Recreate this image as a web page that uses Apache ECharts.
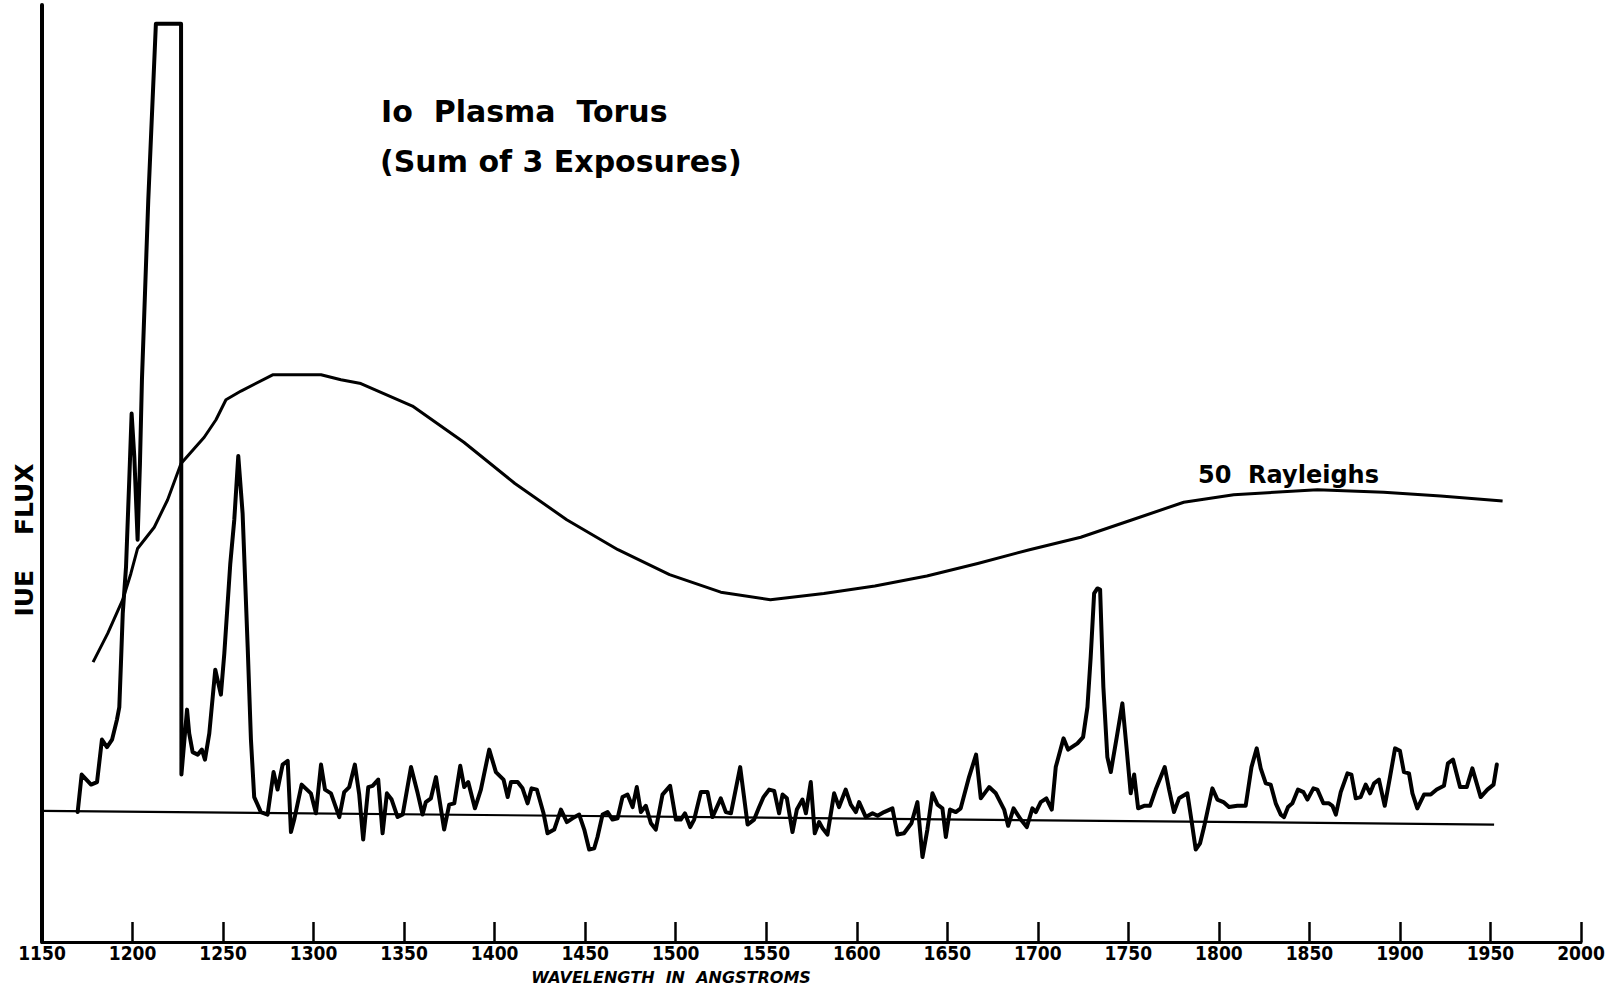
<!DOCTYPE html>
<html><head><meta charset="utf-8">
<script src="https://cdn.jsdelivr.net/npm/echarts@6/dist/echarts.min.js"></script>
<style>html,body{margin:0;padding:0;background:#fff}#c{width:1613px;height:987px}</style>
</head><body><div id="c"></div>
<script>
const xTicks = [1150,1200,1250,1300,1350,1400,1450,1500,1550,1600,1650,1700,1750,1800,1850,1900,1950,2000];

const spectrumWave = [1169.7,1171.9,1177.1,1180.4,1183.1,1185.9,1188.7,1191.4,1192.7,1193.6,1194.6,1196.4,1198.2,1199.5,1201.0,1202.8,1204.1,1205.2,1208.7,1212.9,1226.8,1227.0,1230.1,1231.3,1233.2,1236.0,1238.3,1240.0,1242.4,1245.7,1248.8,1250.7,1254.0,1256.2,1258.4,1260.8,1263.6,1265.4,1267.2,1270.9,
1274.6,1277.9,1280.1,1282.9,1285.7,1287.5,1289.3,1293.4,1298.5,1301.3,1304.1,1306.3,1309.6,1314.2,1316.9,1319.7,1322.8,1325.2,1327.4,1330.2,1332.6,1335.7,1338.1,1340.5,1343.1,1346.4,1349.2,1353.8,1357.5,1360.2,1362.0,1364.8,1367.6,1372.1,1374.9,1377.7,1381.0,1383.2,1385.4,1389.1,1392.4,1397.0,1400.7,1404.9,1407.2,1409.0,1412.7,1415.4,1418.2,1420.4,1423.3,1427.0,1429.2,1432.9,1436.6,1439.9,1443.0,1446.7,1449.5,1452.2,1455.0,1456.8,1459.6,1462.4,1465.1,1467.9,1470.6,1473.4,1476.2,1478.5,1480.8,1483.5,1486.3,1489.0,1492.7,1496.9,1500.1,1502.8,1505.1,1508.0,1510.2,1513.9,1517.6,1520.3,1524.9,1527.7,1530.5,1535.6,1539.7,1543.3,1546.1,
1548.5,1551.6,1554.4,1557.1,1559.0,1561.4,1564.5,1566.9,1570.0,1571.9,1574.6,1576.8,1579.2,1581.1,1583.8,1587.5,1590.2,1593.9,1596.7,1599.5,1601.3,1605.0,1608.7,1611.5,1615.1,1619.7,1622.5,1626.1,1630.2,1633.5,1636.3,1639.0,1641.8,1644.6,1647.3,1649.2,1651.5,1654.7,1657.4,1662.0,1665.9,1668.5,1673.1,1676.8,1681.4,1683.6,1686.6,1690.6,1693.9,1697.0,1698.9,
1701.6,1704.7,1707.7,1709.9,1714.2,1716.7,1721.9,1725.0,1727.4,1729.2,1731.1,1732.9,1734.4,1736.2,1738.4,1740.3,1743.6,1746.7,1749.1,1751.3,1753.2,1755.4,1758.7,1762.0,1765.1,1770.1,1772.5,1775.2,1778.0,1782.6,1784.8,1787.2,1789.6,1791.8,1796.4,1799.2,1802.5,1805.6,1810.2,1814.8,1818.0,1820.9,1823.1,1825.9,1828.6,1831.4,1834.2,1836.0,1838.2,1840.6,1843.7,1846.7,1848.9,1852.2,1854.4,1857.7,1860.8,1862.7,1864.6,1867.3,1871.0,1873.2,1875.6,1878.3,1881.1,1883.5,1885.7,1888.4,1891.6,1894.5,1897.3,1900.0,1902.2,1905.0,1906.9,1909.6,1913.3,1917.0,1920.3,1924.3,1926.5,1929.3,1933.2,1936.9,1940.0,1944.6,1948.3,1951.7,1953.5];

const spectrumFlux = [0.4,3.4,2.6,2.8,6.2,5.6,6.2,7.8,8.8,12.3,16.3,20.0,27.0,32.3,28.8,22.2,28.3,35.0,49.4,63.5,63.5,3.4,8.6,6.7,5.2,5.0,5.4,4.6,6.7,11.8,9.8,13.1,20.3,23.8,28.9,24.3,13.6,6.2,1.6,0.4,
0.2,3.6,2.2,4.2,4.5,-1.2,-0.2,2.6,1.9,0.3,4.2,2.2,1.9,0.0,2.0,2.4,4.2,1.8,-1.8,2.4,2.5,3.0,-1.3,1.9,1.4,0.0,0.2,4.0,1.9,0.2,1.2,1.5,3.2,-1.0,1.0,1.1,4.1,2.4,2.8,0.7,2.2,5.4,3.6,3.0,1.6,2.8,2.8,2.3,1.1,2.3,2.2,0.3,-1.3,-1.0,0.6,-0.4,-0.1,0.2,-1.0,-2.6,-2.5,-1.6,0.2,0.4,-0.2,-0.1,1.6,1.8,0.8,2.4,0.4,0.9,-0.5,-1.0,1.8,2.5,-0.2,-0.2,0.3,-0.8,-0.2,2.0,2.0,0.0,1.5,0.4,0.3,4.0,-0.6,-0.2,0.8,
1.6,2.2,2.1,0.3,1.8,1.5,-1.2,0.6,1.4,0.3,2.8,-1.3,-0.4,-0.9,-1.4,1.9,0.8,2.2,1.0,0.4,1.2,0.0,0.3,0.1,0.4,0.7,-1.4,-1.3,-0.5,1.2,-3.2,-1.0,1.9,1.0,0.7,-1.6,0.6,0.4,0.7,3.2,5.0,1.5,2.4,1.9,0.6,-0.7,0.7,-0.2,-0.8,0.7,0.4,
1.2,1.5,0.6,4.0,6.3,5.4,5.9,6.4,8.8,12.8,17.9,18.3,18.2,10.4,4.8,3.6,6.4,9.1,5.4,1.9,3.4,0.7,0.9,0.9,2.2,4.0,2.2,0.4,1.5,1.9,-0.2,-2.6,-2.1,-0.8,2.3,1.4,1.2,0.8,0.9,0.9,4.0,5.5,3.9,2.7,2.6,1.1,0.2,0.0,0.8,1.1,2.2,2.0,1.4,2.3,2.2,1.1,1.1,0.9,0.2,2.0,3.5,3.4,1.5,1.6,2.6,1.9,2.7,3.0,0.9,3.2,5.5,5.3,3.6,3.5,1.9,0.7,1.8,1.8,2.2,2.5,4.3,4.6,2.4,2.4,3.9,1.6,2.2,2.6,4.2];

const rayleighWave = [1178.2,1186.3,1194.6,1199.1,1202.8,1212.0,1219.4,1226.8,1234.1,1239.6,1246.1,1251.6,1259.9,1277.4,1304.1,1315.1,1326.1,1354.6,1383.0,1411.2,1439.8,1468.1,1496.6,1524.9,1552.3,1581.8,1610.0,1638.7,1666.8,1695.4,1723.7,1752.2,1780.6,1808.2,1854.4,1891.0,1922.5,1956.7];
const rayleighFlux = [12.4,14.7,17.4,19.5,21.5,23.2,25.4,28.3,29.5,30.4,31.8,33.4,34.1,35.4,35.4,35.0,34.7,32.9,30.0,26.7,23.8,21.4,19.4,18.0,17.4,17.9,18.5,19.3,20.3,21.4,22.4,23.8,25.2,25.8,26.2,26.0,25.7,25.3];

const zeroWave = [1150, 1952];
const zeroFlux = [0.5, -0.6];

const titleLines = ['Io  Plasma  Torus', '(Sum of 3 Exposures)'];
const curveLabel = '50  Rayleighs';
const xAxisTitle = 'WAVELENGTH  IN  ANGSTROMS';
const yAxisTitle = 'IUE    FLUX';

const zip = (a, b) => a.map((v, i) => [v, b[i]]);
const chart = echarts.init(document.getElementById('c'), null, {renderer: 'svg'});
const ink = '#000';
chart.setOption({
  animation: false,
  backgroundColor: '#fff',
  grid: {left: 42, right: 32, top: 5, bottom: 45},
  xAxis: {
    type: 'value', min: 1150, max: 2000, interval: 50,
    axisLine: {show: true, onZero: false, lineStyle: {color: ink, width: 3}},
    axisTick: {show: true, inside: true, length: 20, customValues: xTicks.slice(1), lineStyle: {color: ink, width: 2.5}},
    axisLabel: {customValues: xTicks, formatter: v => String(v), color: ink, fontFamily: '"Liberation Sans Narrow", "DejaVu Sans Condensed", sans-serif', fontWeight: 'bold', fontSize: 19, margin: 1},
    splitLine: {show: false}
  },
  yAxis: {
    type: 'value', min: -10, max: 65,
    axisLine: {show: true, onZero: false, lineStyle: {color: ink, width: 4}},
    axisTick: {show: false}, axisLabel: {show: false}, splitLine: {show: false}
  },
  series: [
    {type: 'line', name: 'zero', data: zip(zeroWave, zeroFlux), symbol: 'none', silent: true,
     lineStyle: {color: ink, width: 2.2}},
    {type: 'line', name: '50 Rayleighs', data: zip(rayleighWave, rayleighFlux), symbol: 'none', silent: true,
     lineStyle: {color: ink, width: 3, join: 'round'}},
    {type: 'line', name: 'IUE', data: zip(spectrumWave, spectrumFlux), symbol: 'none', silent: true,
     lineStyle: {color: ink, width: 4, join: 'round', cap: 'round'}}
  ],
  graphic: [
    {type: 'text', x: 381, y: 111, style: {text: titleLines[0], font: 'bold 30px "DejaVu Sans", sans-serif', fill: ink, align: 'left', verticalAlign: 'middle'}},
    {type: 'text', x: 380, y: 161, style: {text: titleLines[1], font: 'bold 30px "DejaVu Sans", sans-serif', fill: ink, align: 'left', verticalAlign: 'middle'}},
    {type: 'text', x: 1198, y: 475, style: {text: curveLabel, font: 'bold 24px "DejaVu Sans", sans-serif', fill: ink, align: 'left', verticalAlign: 'middle'}},
    {type: 'text', x: 671, y: 977, style: {text: xAxisTitle, font: 'italic bold 16px "DejaVu Sans", sans-serif', fill: ink, align: 'center', verticalAlign: 'middle'}},
    {type: 'text', x: 24, y: 540, rotation: Math.PI / 2, style: {text: yAxisTitle, font: 'bold 25px "DejaVu Sans", sans-serif', fill: ink, align: 'center', verticalAlign: 'middle'}}
  ]
});
</script></body></html>
